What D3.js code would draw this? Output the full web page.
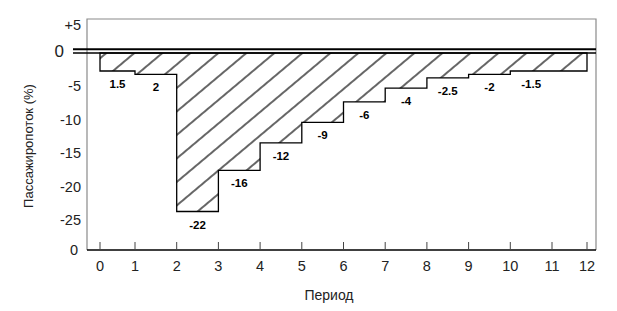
<!DOCTYPE html>
<html>
<head>
<meta charset="utf-8">
<script src="https://cdn.jsdelivr.net/npm/d3@7"></script>
<style>
  body { margin: 0; background: #fff; }
  text { font-family: "Liberation Sans", Arial, sans-serif; }
</style>
</head>
<body>
<svg width="617" height="311"></svg>
<script>
// Пассажиропоток по периодам (изменение, %)
var periods = [0, 1, 2, 3, 4, 5, 6, 7, 8, 9, 10];
var lastPeriod = 12;
var changes = [-1.5, -2, -22, -16, -12, -9, -6, -4, -2.5, -2, -1.5];
var changeLabels = ["1.5", "2", "-22", "-16", "-12", "-9", "-6", "-4", "-2.5", "-2", "-1.5"];

var xTicks = [0, 1, 2, 3, 4, 5, 6, 7, 8, 9, 10, 11, 12];
var yTicks = [5, 0, -5, -10, -15, -20, -25];
var yTickLabels = ["+5", "0", "-5", "-10", "-15", "-20", "-25"];
var yFloor = -29.5;

var svg = d3.select("svg"),
    width = +svg.attr("width"),
    height = +svg.attr("height");

var plotLeft = 87, plotRight = 596, plotTop = 19, plotBottom = 250;

// ось X нерегулярная: крайние интервалы уже
var x = d3.scaleLinear()
    .domain([0, 1, 11, 12])
    .range([100, 135, 552, 587]);

// шкала подписей оси Y
var yAxis = d3.scaleLinear()
    .domain([5, 0, -5, -25, yFloor])
    .range([25, 51, 86, 220, plotBottom]);

// шкала ступенек
var y = d3.scaleLinear()
    .domain([-1.5, -22])
    .range([71, 211.5]);

var base = yAxis(0) + 2;

// штриховка
var defs = svg.append("defs");
defs.append("pattern")
    .attr("id", "hatch")
    .attr("patternUnits", "userSpaceOnUse")
    .attr("width", 18)
    .attr("height", 18)
    .attr("patternTransform", "rotate(50)")
  .append("line")
    .attr("x1", 1).attr("y1", 0)
    .attr("x2", 1).attr("y2", 18)
    .attr("stroke", "#000")
    .attr("stroke-width", 1.2);

// рамка
svg.append("path")
    .attr("d", "M" + plotLeft + "," + plotBottom + "V" + plotTop + "H" + plotRight + "V" + plotBottom)
    .attr("fill", "none")
    .attr("stroke", "#8a8a8a")
    .attr("stroke-width", 1.2);

// данные ступенек
var steps = periods.map(function(p, i) { return {p: p, v: changes[i], label: changeLabels[i]}; });
var stepsClosed = steps.concat([{p: lastPeriod, v: changes[changes.length - 1]}]);

var area = d3.area()
    .curve(d3.curveStepAfter)
    .x(function(d) { return x(d.p); })
    .y0(base)
    .y1(function(d) { return y(d.v); });

svg.append("path")
    .datum(stepsClosed)
    .attr("d", area)
    .attr("fill", "url(#hatch)")
    .attr("stroke", "#000")
    .attr("stroke-width", 1.3)
    .attr("stroke-linejoin", "miter");

// двойная нулевая линия
svg.append("line")
    .attr("x1", 73).attr("x2", plotRight)
    .attr("y1", yAxis(0) - 1.8).attr("y2", yAxis(0) - 1.8)
    .attr("stroke", "#000").attr("stroke-width", 2);
svg.append("line")
    .attr("x1", 73).attr("x2", plotRight)
    .attr("y1", base).attr("y2", base)
    .attr("stroke", "#000").attr("stroke-width", 1.5);

// подписи ступенек
svg.append("g")
    .attr("font-size", 11.5)
    .attr("font-weight", "bold")
    .attr("text-anchor", "middle")
    .selectAll("text")
    .data(steps)
    .enter().append("text")
    .attr("x", function(d) { return x(d.p + 0.5); })
    .attr("y", function(d) { return y(d.v) + 17; })
    .text(function(d) { return d.label; });

// ось X
svg.append("line")
    .attr("x1", plotLeft).attr("x2", plotRight)
    .attr("y1", plotBottom).attr("y2", plotBottom)
    .attr("stroke", "#000").attr("stroke-width", 1.5);

var xt = svg.append("g").selectAll("g")
    .data(xTicks)
    .enter().append("g")
    .attr("transform", function(d) { return "translate(" + x(d) + ",0)"; });
xt.append("line")
    .attr("y1", plotBottom - 8).attr("y2", plotBottom)
    .attr("stroke", "#444").attr("stroke-width", 1);
xt.append("text")
    .attr("y", plotBottom + 21)
    .attr("text-anchor", "middle")
    .attr("font-size", 14.5)
    .attr("fill", "#222")
    .text(function(d) { return d; });

// ось Y
svg.append("g")
    .attr("fill", "#222")
    .attr("text-anchor", "end")
    .selectAll("text")
    .data(yTicks)
    .enter().append("text")
    .attr("x", function(d) { return d === 0 ? 64 : 81; })
    .attr("y", function(d) { return yAxis(d); })
    .attr("dy", "0.35em")
    .attr("font-size", function(d) { return d === 0 ? 17 : 14.5; })
    .text(function(d, i) { return yTickLabels[i]; });

svg.append("text")
    .attr("x", 78)
    .attr("y", yAxis(yFloor))
    .attr("dy", "0.35em")
    .attr("text-anchor", "end")
    .attr("font-size", 14.5)
    .attr("fill", "#222")
    .text("0");

// названия осей
svg.append("text")
    .attr("x", 329)
    .attr("y", 300)
    .attr("text-anchor", "middle")
    .attr("font-size", 14)
    .attr("fill", "#222")
    .text("Период");

svg.append("text")
    .attr("transform", "translate(33,146) rotate(-90)")
    .attr("text-anchor", "middle")
    .attr("font-size", 13)
    .attr("fill", "#222")
    .text("Пассажиропоток (%)");
</script>
</body>
</html>
